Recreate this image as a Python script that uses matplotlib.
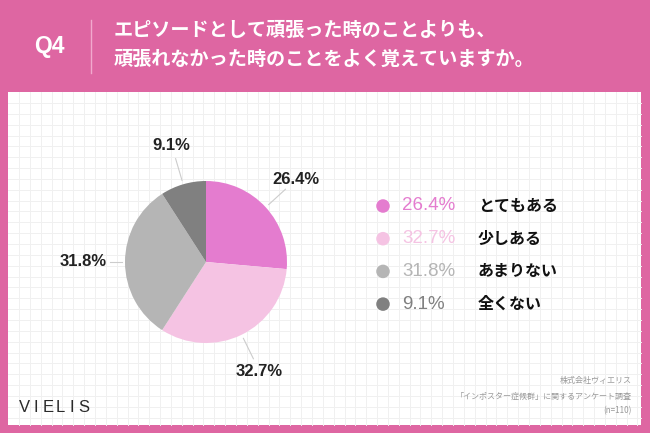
import numpy as np
import matplotlib.pyplot as plt
from matplotlib.patches import Rectangle

plt.rcParams['font.family'] = ['Liberation Sans', 'Noto Sans CJK JP', 'DejaVu Sans']

# データ
labels = ['とてもある', '少しある', 'あまりない', '全くない']
values = [26.4, 32.7, 31.8, 9.1]
colors = ['#E47CCF', '#F5C3E3', '#B5B5B5', '#808080']
title_lines = ['エピソードとして頑張った時のことよりも、',
               '頑張れなかった時のことをよく覚えていますか。']
source_lines = ['株式会社ヴィエリス', '「インポスター症候群」に関するアンケート調査', '(n=110)']

W, H = 650, 433
pink = '#DE66A2'
jp = ['Noto Sans CJK JP', 'DejaVu Sans']

fig = plt.figure(figsize=(W / 100, H / 100), dpi=100)
fig.patch.set_facecolor(pink)

# 背景用の軸（ピクセル座標）
bg = fig.add_axes([0, 0, 1, 1])
bg.set_xlim(0, W)
bg.set_ylim(H, 0)
bg.axis('off')

px0, py0, px1, py1 = 8, 92, 641, 425
bg.add_patch(Rectangle((px0, py0), px1 - px0, py1 - py0, facecolor='white', edgecolor='none'))
step = 10.85
for x in np.arange(px0 + 11, px1, step):
    bg.plot([x, x], [py0, py1], color='#F0F0F0', lw=0.7, zorder=1)
for y in np.arange(py0 + 11, py1, step):
    bg.plot([px0, px1], [y, y], color='#F0F0F0', lw=0.7, zorder=1)

# ヘッダー
bg.text(49, 46, 'Q4', color='white', fontsize=16.5, fontweight='bold', ha='center', va='center')
bg.plot([91, 91], [20, 73], color='#F2A9CE', lw=1)
bg.text(114, 30, title_lines[0], color='white', fontsize=13.8, fontweight='bold',
        ha='left', va='center', family=jp)
bg.text(114, 59, title_lines[1], color='white', fontsize=13.8, fontweight='bold',
        ha='left', va='center', family=jp)

# フッター
for i, ch in enumerate('VIELIS'):
    bg.text(24 + i * 12, 407, ch, color='#2A2A2A', fontsize=12, ha='center', va='center')
for i, s in enumerate(source_lines):
    bg.text(632, 381 + i * 15, s, color='#999999', fontsize=5.8, ha='right', va='center', family=jp)

# 円グラフ
cx, cy, r = 206, 262, 81
pie_ax = fig.add_axes([(cx - r) / W, (H - cy - r) / H, 2 * r / W, 2 * r / H])
wedges, _ = pie_ax.pie(values, colors=colors, startangle=90, counterclock=False,
                       wedgeprops=dict(linewidth=0))
pie_ax.set_xlim(-1, 1)
pie_ax.set_ylim(-1, 1)
pie_ax.set_aspect('equal')
pie_ax.axis('off')

for w, v in zip(wedges, values):
    ang = np.deg2rad((w.theta1 + w.theta2) / 2)
    c, s = np.cos(ang), np.sin(ang)
    if abs(c) > 0.9:
        # 横向きのラベル
        ha = 'right' if c < 0 else 'left'
        pie_ax.plot([1.04 * c, 1.18 * c], [1.04 * s, 1.18 * s], color='#CCCCCC', lw=0.8, clip_on=False)
        pie_ax.text(1.23 * c, 1.23 * s, f'{v}%', ha=ha, va='center', fontsize=12,
                    fontweight='bold', color='#222222')
    else:
        pie_ax.plot([1.05 * c, 1.33 * c], [1.05 * s, 1.33 * s], color='#CCCCCC', lw=0.8, clip_on=False)
        pie_ax.text(1.5 * c, 1.5 * s, f'{v}%', ha='center', va='center', fontsize=12,
                    fontweight='bold', color='#222222')

# 凡例
for i, (lab, v, col) in enumerate(zip(labels, values, colors)):
    y = 206 + i * 32.7
    bg.scatter([383], [y], s=95, color=col, edgecolors='none')
    bg.text(402, y, f'{v}%', color=col, fontsize=13.5, ha='left', va='center')
    bg.text(478, y, lab, color='#111111', fontsize=11.5, fontweight='bold', ha='left',
            va='center', family=jp)

fig.savefig('out.png', dpi=100, facecolor=fig.get_facecolor())
